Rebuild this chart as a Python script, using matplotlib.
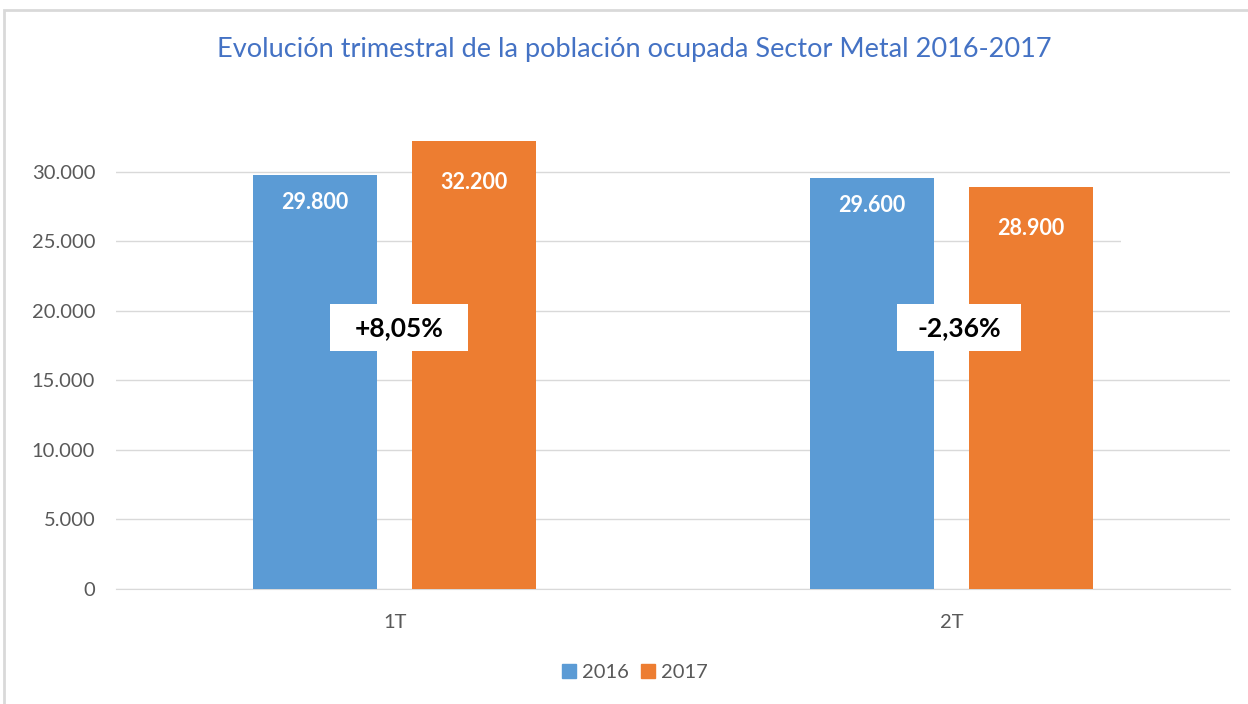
import matplotlib.pyplot as plt
import numpy as np
from matplotlib.patches import Rectangle

quarters = ["1T", "2T"]
years = ["2016", "2017"]
values_2016 = [29800, 29600]
values_2017 = [32200, 28900]
yticks = [0, 5000, 10000, 15000, 20000, 25000, 30000]
change_y = 18800

colors = ["#5B9BD5", "#ED7D31"]
plt.rcParams["font.family"] = ["Lato", "DejaVu Sans"]


def thousands(v):
    return f"{v:,.0f}".replace(",", ".")


fig = plt.figure(figsize=(12.48, 7.04), dpi=100)
ax = fig.add_axes([0.093, 0.1634, 0.8926, 0.691])

x = np.arange(len(quarters))
w = 0.2226
off = 0.1427
# label drop below bar top differs per series in the original
for vals, dx, c, drop in [(values_2016, -off, colors[0], 2000),
                          (values_2017, off, colors[1], 2950)]:
    bars = ax.bar(x + dx, vals, width=w, color=c, zorder=3)
    for b, v in zip(bars, vals):
        ax.text(b.get_x() + b.get_width() / 2, v - drop, thousands(v),
                ha="center", va="center", color="white", fontsize=15.5,
                fontweight="bold", zorder=4)

# percentage change boxes
box_w = [0.248, 0.223]
box_dx = [0.008, 0.0135]
box_h = 3400
for i, (a, b) in enumerate(zip(values_2016, values_2017)):
    pct = (b - a) / a * 100
    txt = f"{pct:+.2f}%".replace(".", ",")
    cx = x[i] + box_dx[i]
    ax.add_patch(Rectangle((cx - box_w[i] / 2, change_y - box_h / 2), box_w[i], box_h,
                           fc="white", ec="none", zorder=5))
    ax.text(cx, change_y - 50, txt, ha="center", va="center",
            fontsize=19, fontweight="bold", color="black", zorder=6)

ax.set_xlim(-0.5, 1.5)
ax.set_ylim(0, 35000)
ax.set_yticks(yticks)
ax.set_yticklabels([thousands(v) for v in yticks])
ax.set_xticks(x)
ax.set_xticklabels(quarters)
ax.tick_params(axis="both", length=0, labelsize=14.5, labelcolor="#595959")
ax.tick_params(axis="x", pad=18)
ax.tick_params(axis="y", pad=15)
ax.grid(axis="y", color="#D9D9D9", linewidth=1)
for s in ["top", "right", "left"]:
    ax.spines[s].set_visible(False)
ax.spines["bottom"].set_color("#D9D9D9")

# small white patch interrupting the 25.000 gridline on the right
ax.add_patch(Rectangle((1.305, 24000), 0.2, 2000, fc="white", ec="none", zorder=2))

fig.text(0.508, 0.93, "Evolución trimestral de la población ocupada Sector Metal 2016-2017",
         ha="center", va="center", fontsize=19.5, color="#4472C4")

handles = [Rectangle((0, 0), 1, 1, color=c) for c in colors]
fig.legend(handles, years, loc="center", bbox_to_anchor=(0.509, 0.045), ncol=2,
           frameon=False, fontsize=14.5, labelcolor="#595959", handlelength=0.7,
           handleheight=0.7, handletextpad=0.3, columnspacing=0.6)

# chart frame
fig.add_artist(Rectangle((4 / 1248, -0.1), 1.1, 1 - 10 / 704 + 0.1,
                         transform=fig.transFigure, fill=False,
                         ec="#D9D9D9", lw=2))

fig.savefig("out.png", dpi=100, facecolor="white")
